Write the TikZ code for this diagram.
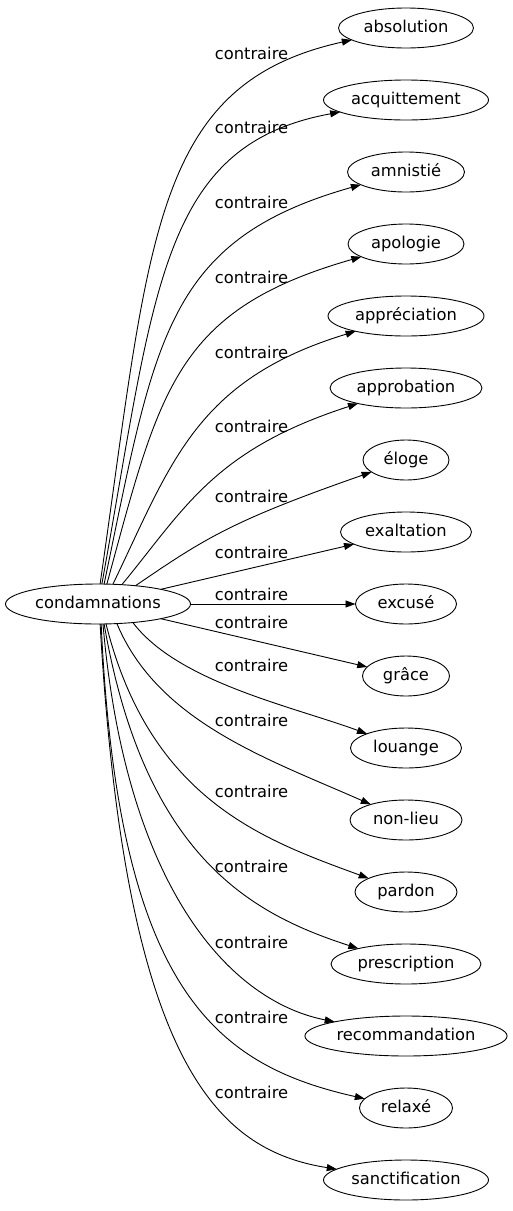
\documentclass[tikz,border=0pt]{standalone}
\usepackage{fontspec}
\setmainfont{DejaVu Sans}
\usetikzlibrary{arrows.meta,positioning,shapes.geometric}

\begin{document}
\begin{tikzpicture}[x=1pt,y=-1pt,node distance=32pt,>={Triangle[length=10pt,width=7pt]},
 every node/.style={font=\fontsize{16.3}{19}\selectfont,text height=12pt,text depth=4pt},
 mot/.style={ellipse,draw,line width=0.9pt,inner sep=2pt,outer sep=0pt,minimum height=40pt},
 rel/.style={inner sep=0pt},
 lien/.style={->,line width=0.9pt}]
\useasboundingbox (0,0) rectangle (513,1211);
\node[mot,minimum width=185pt] (cond) at (98,604) {condamnations};
\node[mot,minimum width=135pt] (absolution) at (406,28) {absolution};
\node[mot,minimum width=165pt,below=of absolution] (acquittement) {acquittement};
\node[mot,minimum width=117pt,below=of acquittement] (amnistie) {amnistié};
\node[mot,minimum width=116pt,below=of amnistie] (apologie) {apologie};
\node[mot,minimum width=156pt,below=of apologie] (appreciation) {appréciation};
\node[mot,minimum width=152pt,below=of appreciation] (approbation) {approbation};
\node[mot,minimum width=86pt,below=of approbation] (eloge) {éloge};
\node[mot,minimum width=131pt,below=of eloge] (exaltation) {exaltation};
\node[mot,minimum width=101pt,below=of exaltation] (excuse) {excusé};
\node[mot,minimum width=87pt,below=of excuse] (grace) {grâce};
\node[mot,minimum width=111pt,below=of grace] (louange) {louange};
\node[mot,minimum width=112pt,below=of louange] (nonlieu) {non-lieu};
\node[mot,minimum width=102pt,below=of nonlieu] (pardon) {pardon};
\node[mot,minimum width=150pt,below=of pardon] (prescription) {prescription};
\node[mot,minimum width=202pt,below=of prescription] (recommandation) {recommandation};
\node[mot,minimum width=93pt,below=of recommandation] (relaxe) {relaxé};
\node[mot,minimum width=165pt,below=of relaxe] (sanctification) {sanctification};
% liens "contraire"
\draw[lien] (cond.84) .. controls (150,238) and (152,84) .. (absolution);
\draw[lien] (cond.79) .. controls (155,290) and (160,145) .. (acquittement);
\draw[lien] (cond.73) .. controls (155,340) and (165,240) .. (amnistie);
\draw[lien] (cond.66) .. controls (160,389) and (175,310) .. (apologie);
\draw[lien] (cond.53) .. controls (171,464) and (195,380) .. (appreciation);
\draw[lien] (cond.39) .. controls (185,508) and (214,450) .. (approbation);
\draw[lien] (cond.26) .. controls (204,539) and (231,521) .. (eloge);
\draw[lien] (cond) -- (exaltation);
\draw[lien] (cond) -- (excuse);
\draw[lien] (cond) -- (grace);
\draw[lien] (cond.-28) .. controls (178,682) and (291,706) .. (louange);
\draw[lien] (cond.-46) .. controls (158,722) and (268,759) .. (nonlieu);
\draw[lien] (cond.-68) .. controls (150,800) and (264,840) .. (pardon);
\draw[lien] (cond.-73) .. controls (145,860) and (255,915) .. (prescription);
\draw[lien] (cond.-76) .. controls (125,880) and (225,1000) .. (recommandation);
\draw[lien] (cond.-81) .. controls (118,990) and (215,1065) .. (relaxe);
\draw[lien] (cond.-84) .. controls (125,1060) and (215,1150) .. (sanctification);
% etiquettes
\node[rel] (ctr1) at (251.5,55) {contraire};
\node[rel] (ctr2) at (251.5,129) {contraire};
\node[rel] (ctr3) at (251.5,204) {contraire};
\node[rel] (ctr4) at (251.5,279) {contraire};
\node[rel] (ctr5) at (251.5,354) {contraire};
\node[rel] (ctr6) at (251.5,428) {contraire};
\node[rel] (ctr7) at (251.5,498) {contraire};
\node[rel] (ctr8) at (251.5,554) {contraire};
\node[rel] (ctr9) at (251.5,596) {contraire};
\node[rel] (ctr10) at (251.5,624) {contraire};
\node[rel] (ctr11) at (251.5,667) {contraire};
\node[rel] (ctr12) at (251.5,722) {contraire};
\node[rel] (ctr13) at (251.5,793) {contraire};
\node[rel] (ctr14) at (251.5,868) {contraire};
\node[rel] (ctr15) at (251.5,944) {contraire};
\node[rel] (ctr16) at (251.5,1019) {contraire};
\node[rel] (ctr17) at (251.5,1094) {contraire};
\end{tikzpicture}
\end{document}
